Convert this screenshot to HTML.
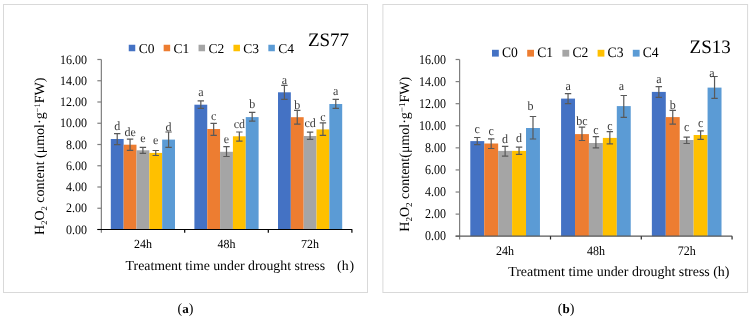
<!DOCTYPE html>
<html><head><meta charset="utf-8"><style>
html,body{margin:0;padding:0;background:#fff;}
body{width:752px;height:321px;overflow:hidden;position:relative;}
svg{position:absolute;left:0;top:0;will-change:transform;}
svg text{font-family:"Liberation Serif", serif;fill:#000;text-rendering:geometricPrecision;}
</style></head><body>
<svg width="752" height="321" viewBox="0 0 752 321">
<rect x="3.5" y="4.5" width="364.0" height="288.0" fill="#fff" stroke="#D9D9D9" stroke-width="1"/>
<rect x="110.80" y="139.00" width="12.84" height="90.50" fill="#4472C4"/>
<rect x="123.64" y="144.70" width="12.84" height="84.80" fill="#ED7D31"/>
<rect x="136.48" y="150.30" width="12.84" height="79.20" fill="#A5A5A5"/>
<rect x="149.32" y="152.90" width="12.84" height="76.60" fill="#FFC000"/>
<rect x="162.16" y="139.60" width="12.84" height="89.90" fill="#5B9BD5"/>
<rect x="194.40" y="104.70" width="12.84" height="124.80" fill="#4472C4"/>
<rect x="207.24" y="129.00" width="12.84" height="100.50" fill="#ED7D31"/>
<rect x="220.08" y="151.80" width="12.84" height="77.70" fill="#A5A5A5"/>
<rect x="232.92" y="136.30" width="12.84" height="93.20" fill="#FFC000"/>
<rect x="245.76" y="117.10" width="12.84" height="112.40" fill="#5B9BD5"/>
<rect x="278.00" y="92.30" width="12.84" height="137.20" fill="#4472C4"/>
<rect x="290.84" y="117.20" width="12.84" height="112.30" fill="#ED7D31"/>
<rect x="303.68" y="136.00" width="12.84" height="93.50" fill="#A5A5A5"/>
<rect x="316.52" y="129.40" width="12.84" height="100.10" fill="#FFC000"/>
<rect x="329.36" y="104.00" width="12.84" height="125.50" fill="#5B9BD5"/>
<path d="M117.22 133.60V144.70M114.02 133.60H120.42M114.02 144.70H120.42" stroke="#595959" stroke-width="1.2" fill="none"/>
<text transform="translate(117.22 129.90) scale(1 1.04)" text-anchor="middle" font-size="12" style="fill:#3a3a3a">d</text>
<path d="M130.06 139.20V150.30M126.86 139.20H133.26M126.86 150.30H133.26" stroke="#595959" stroke-width="1.2" fill="none"/>
<text transform="translate(130.06 135.90) scale(1 1.04)" text-anchor="middle" font-size="12" style="fill:#3a3a3a">de</text>
<path d="M142.90 147.40V153.40M139.70 147.40H146.10M139.70 153.40H146.10" stroke="#595959" stroke-width="1.2" fill="none"/>
<text transform="translate(142.90 141.80) scale(1 1.04)" text-anchor="middle" font-size="12" style="fill:#3a3a3a">e</text>
<path d="M155.74 150.50V155.50M152.54 150.50H158.94M152.54 155.50H158.94" stroke="#595959" stroke-width="1.2" fill="none"/>
<text transform="translate(155.74 143.80) scale(1 1.04)" text-anchor="middle" font-size="12" style="fill:#3a3a3a">e</text>
<path d="M168.58 132.00V147.40M165.38 132.00H171.78M165.38 147.40H171.78" stroke="#595959" stroke-width="1.2" fill="none"/>
<text transform="translate(168.58 130.80) scale(1 1.04)" text-anchor="middle" font-size="12" style="fill:#3a3a3a">d</text>
<path d="M200.82 100.80V108.30M197.62 100.80H204.02M197.62 108.30H204.02" stroke="#595959" stroke-width="1.2" fill="none"/>
<text transform="translate(200.82 96.30) scale(1 1.04)" text-anchor="middle" font-size="12" style="fill:#3a3a3a">a</text>
<path d="M213.66 123.30V135.40M210.46 123.30H216.86M210.46 135.40H216.86" stroke="#595959" stroke-width="1.2" fill="none"/>
<text transform="translate(213.66 120.20) scale(1 1.04)" text-anchor="middle" font-size="12" style="fill:#3a3a3a">c</text>
<path d="M226.50 146.60V156.50M223.30 146.60H229.70M223.30 156.50H229.70" stroke="#595959" stroke-width="1.2" fill="none"/>
<text transform="translate(226.50 142.90) scale(1 1.04)" text-anchor="middle" font-size="12" style="fill:#3a3a3a">e</text>
<path d="M239.34 132.00V141.20M236.14 132.00H242.54M236.14 141.20H242.54" stroke="#595959" stroke-width="1.2" fill="none"/>
<text transform="translate(239.34 128.20) scale(1 1.04)" text-anchor="middle" font-size="12" style="fill:#3a3a3a">cd</text>
<path d="M252.18 112.40V121.10M248.98 112.40H255.38M248.98 121.10H255.38" stroke="#595959" stroke-width="1.2" fill="none"/>
<text transform="translate(252.18 108.20) scale(1 1.04)" text-anchor="middle" font-size="12" style="fill:#3a3a3a">b</text>
<path d="M284.42 85.30V99.30M281.22 85.30H287.62M281.22 99.30H287.62" stroke="#595959" stroke-width="1.2" fill="none"/>
<text transform="translate(284.42 83.90) scale(1 1.04)" text-anchor="middle" font-size="12" style="fill:#3a3a3a">a</text>
<path d="M297.26 110.40V124.20M294.06 110.40H300.46M294.06 124.20H300.46" stroke="#595959" stroke-width="1.2" fill="none"/>
<text transform="translate(297.26 109.30) scale(1 1.04)" text-anchor="middle" font-size="12" style="fill:#3a3a3a">b</text>
<path d="M310.10 132.10V139.40M306.90 132.10H313.30M306.90 139.40H313.30" stroke="#595959" stroke-width="1.2" fill="none"/>
<text transform="translate(310.10 126.90) scale(1 1.04)" text-anchor="middle" font-size="12" style="fill:#3a3a3a">cd</text>
<path d="M322.94 122.80V135.30M319.74 122.80H326.14M319.74 135.30H326.14" stroke="#595959" stroke-width="1.2" fill="none"/>
<text transform="translate(322.94 120.90) scale(1 1.04)" text-anchor="middle" font-size="12" style="fill:#3a3a3a">c</text>
<path d="M335.78 99.30V108.40M332.58 99.30H338.98M332.58 108.40H338.98" stroke="#595959" stroke-width="1.2" fill="none"/>
<text transform="translate(335.78 94.70) scale(1 1.04)" text-anchor="middle" font-size="12" style="fill:#3a3a3a">a</text>
<path d="M101.35 59.5V232.8" stroke="#7f7f7f" stroke-width="1.2" fill="none"/>
<path d="M97.35 229.50H101.35" stroke="#7f7f7f" stroke-width="1.2" fill="none"/>
<text transform="translate(87.00 233.50) scale(1 1.08)" text-anchor="end" font-size="12">0.00</text>
<path d="M97.35 208.25H101.35" stroke="#7f7f7f" stroke-width="1.2" fill="none"/>
<text transform="translate(87.00 212.25) scale(1 1.08)" text-anchor="end" font-size="12">2.00</text>
<path d="M97.35 187.00H101.35" stroke="#7f7f7f" stroke-width="1.2" fill="none"/>
<text transform="translate(87.00 191.00) scale(1 1.08)" text-anchor="end" font-size="12">4.00</text>
<path d="M97.35 165.75H101.35" stroke="#7f7f7f" stroke-width="1.2" fill="none"/>
<text transform="translate(87.00 169.75) scale(1 1.08)" text-anchor="end" font-size="12">6.00</text>
<path d="M97.35 144.50H101.35" stroke="#7f7f7f" stroke-width="1.2" fill="none"/>
<text transform="translate(87.00 148.50) scale(1 1.08)" text-anchor="end" font-size="12">8.00</text>
<path d="M97.35 123.25H101.35" stroke="#7f7f7f" stroke-width="1.2" fill="none"/>
<text transform="translate(87.00 127.25) scale(1 1.08)" text-anchor="end" font-size="12">10.00</text>
<path d="M97.35 102.00H101.35" stroke="#7f7f7f" stroke-width="1.2" fill="none"/>
<text transform="translate(87.00 106.00) scale(1 1.08)" text-anchor="end" font-size="12">12.00</text>
<path d="M97.35 80.75H101.35" stroke="#7f7f7f" stroke-width="1.2" fill="none"/>
<text transform="translate(87.00 84.75) scale(1 1.08)" text-anchor="end" font-size="12">14.00</text>
<path d="M97.35 59.50H101.35" stroke="#7f7f7f" stroke-width="1.2" fill="none"/>
<text transform="translate(87.00 63.50) scale(1 1.08)" text-anchor="end" font-size="12">16.00</text>
<path d="M97.35 229.5H352.2" stroke="#000" stroke-width="1.2" fill="none"/>
<path d="M184.70 229.5V232.8" stroke="#000" stroke-width="1.2" fill="none"/>
<path d="M268.30 229.5V232.8" stroke="#000" stroke-width="1.2" fill="none"/>
<path d="M351.90 229.5V232.8" stroke="#000" stroke-width="1.2" fill="none"/>
<text transform="translate(142.90 248.00) scale(1 1.03)" text-anchor="middle" font-size="12">24h</text>
<text transform="translate(226.50 248.00) scale(1 1.03)" text-anchor="middle" font-size="12">48h</text>
<text transform="translate(310.10 248.00) scale(1 1.03)" text-anchor="middle" font-size="12">72h</text>
<rect x="128.75" y="44.75" width="6.5" height="6.5" fill="#4472C4"/>
<text x="138.65" y="52.60" font-size="13.5">C0</text>
<rect x="163.65" y="44.75" width="6.5" height="6.5" fill="#ED7D31"/>
<text x="173.55" y="52.60" font-size="13.5">C1</text>
<rect x="198.55" y="44.75" width="6.5" height="6.5" fill="#A5A5A5"/>
<text x="208.45" y="52.60" font-size="13.5">C2</text>
<rect x="233.45" y="44.75" width="6.5" height="6.5" fill="#FFC000"/>
<text x="243.35" y="52.60" font-size="13.5">C3</text>
<rect x="268.35" y="44.75" width="6.5" height="6.5" fill="#5B9BD5"/>
<text x="278.25" y="52.60" font-size="13.5">C4</text>
<text x="307.9" y="45.9" font-size="19">ZS77</text>
<text x="125.6" y="270.2" font-size="13.8">Treatment time under drought stress<tspan x="337.1">(</tspan><tspan>h</tspan><tspan x="349.6">)</tspan></text>
<text transform="translate(43.7 156.3) rotate(-90)" text-anchor="middle" font-size="14.0">H<tspan font-size="8.5" dy="3">2</tspan><tspan dy="-3">O</tspan><tspan font-size="8.5" dy="3">2</tspan><tspan dy="-3"> content (μmol·g</tspan><tspan font-size="8.5" dy="-4.2">−1</tspan><tspan dy="4.2">FW)</tspan></text>
<rect x="382.9" y="4.5" width="364.70000000000005" height="288.0" fill="#fff" stroke="#D9D9D9" stroke-width="1"/>
<rect x="470.30" y="141.10" width="13.93" height="95.10" fill="#4472C4"/>
<rect x="484.23" y="143.50" width="13.93" height="92.70" fill="#ED7D31"/>
<rect x="498.16" y="150.90" width="13.93" height="85.30" fill="#A5A5A5"/>
<rect x="512.09" y="150.90" width="13.93" height="85.30" fill="#FFC000"/>
<rect x="526.02" y="128.00" width="13.93" height="108.20" fill="#5B9BD5"/>
<rect x="561.08" y="98.60" width="13.93" height="137.60" fill="#4472C4"/>
<rect x="575.01" y="134.10" width="13.93" height="102.10" fill="#ED7D31"/>
<rect x="588.94" y="143.00" width="13.93" height="93.20" fill="#A5A5A5"/>
<rect x="602.87" y="137.90" width="13.93" height="98.30" fill="#FFC000"/>
<rect x="616.80" y="106.10" width="13.93" height="130.10" fill="#5B9BD5"/>
<rect x="651.86" y="91.90" width="13.93" height="144.30" fill="#4472C4"/>
<rect x="665.79" y="117.10" width="13.93" height="119.10" fill="#ED7D31"/>
<rect x="679.72" y="140.00" width="13.93" height="96.20" fill="#A5A5A5"/>
<rect x="693.65" y="135.00" width="13.93" height="101.20" fill="#FFC000"/>
<rect x="707.58" y="87.60" width="13.93" height="148.60" fill="#5B9BD5"/>
<path d="M477.26 137.50V144.70M474.06 137.50H480.46M474.06 144.70H480.46" stroke="#595959" stroke-width="1.2" fill="none"/>
<text transform="translate(477.26 132.70) scale(1 1.06)" text-anchor="middle" font-size="12" style="fill:#3a3a3a">c</text>
<path d="M491.19 138.80V148.50M488.00 138.80H494.39M488.00 148.50H494.39" stroke="#595959" stroke-width="1.2" fill="none"/>
<text transform="translate(491.19 135.00) scale(1 1.06)" text-anchor="middle" font-size="12" style="fill:#3a3a3a">c</text>
<path d="M505.12 146.30V156.20M501.93 146.30H508.32M501.93 156.20H508.32" stroke="#595959" stroke-width="1.2" fill="none"/>
<text transform="translate(505.12 142.70) scale(1 1.06)" text-anchor="middle" font-size="12" style="fill:#3a3a3a">d</text>
<path d="M519.06 147.10V154.40M515.86 147.10H522.26M515.86 154.40H522.26" stroke="#595959" stroke-width="1.2" fill="none"/>
<text transform="translate(519.06 141.80) scale(1 1.06)" text-anchor="middle" font-size="12" style="fill:#3a3a3a">d</text>
<path d="M532.99 116.50V139.00M529.78 116.50H536.19M529.78 139.00H536.19" stroke="#595959" stroke-width="1.2" fill="none"/>
<text transform="translate(530.50 110.20) scale(1 1.06)" text-anchor="middle" font-size="12" style="fill:#3a3a3a">b</text>
<path d="M568.05 93.60V103.60M564.85 93.60H571.25M564.85 103.60H571.25" stroke="#595959" stroke-width="1.2" fill="none"/>
<text transform="translate(568.05 90.10) scale(1 1.06)" text-anchor="middle" font-size="12" style="fill:#3a3a3a">a</text>
<path d="M581.98 127.20V140.50M578.77 127.20H585.18M578.77 140.50H585.18" stroke="#595959" stroke-width="1.2" fill="none"/>
<text transform="translate(581.98 124.70) scale(1 1.06)" text-anchor="middle" font-size="12" style="fill:#3a3a3a">bc</text>
<path d="M595.91 136.60V147.80M592.71 136.60H599.11M592.71 147.80H599.11" stroke="#595959" stroke-width="1.2" fill="none"/>
<text transform="translate(595.91 134.20) scale(1 1.06)" text-anchor="middle" font-size="12" style="fill:#3a3a3a">c</text>
<path d="M609.84 131.70V143.80M606.63 131.70H613.04M606.63 143.80H613.04" stroke="#595959" stroke-width="1.2" fill="none"/>
<text transform="translate(609.84 129.50) scale(1 1.06)" text-anchor="middle" font-size="12" style="fill:#3a3a3a">c</text>
<path d="M623.77 95.50V117.40M620.57 95.50H626.97M620.57 117.40H626.97" stroke="#595959" stroke-width="1.2" fill="none"/>
<text transform="translate(621.40 89.50) scale(1 1.06)" text-anchor="middle" font-size="12" style="fill:#3a3a3a">a</text>
<path d="M658.83 86.60V97.30M655.62 86.60H662.03M655.62 97.30H662.03" stroke="#595959" stroke-width="1.2" fill="none"/>
<text transform="translate(658.83 83.30) scale(1 1.06)" text-anchor="middle" font-size="12" style="fill:#3a3a3a">a</text>
<path d="M672.75 110.40V124.20M669.55 110.40H675.96M669.55 124.20H675.96" stroke="#595959" stroke-width="1.2" fill="none"/>
<text transform="translate(672.75 109.00) scale(1 1.06)" text-anchor="middle" font-size="12" style="fill:#3a3a3a">b</text>
<path d="M686.69 137.20V143.50M683.49 137.20H689.89M683.49 143.50H689.89" stroke="#595959" stroke-width="1.2" fill="none"/>
<text transform="translate(686.69 131.00) scale(1 1.06)" text-anchor="middle" font-size="12" style="fill:#3a3a3a">c</text>
<path d="M700.62 130.80V139.30M697.41 130.80H703.82M697.41 139.30H703.82" stroke="#595959" stroke-width="1.2" fill="none"/>
<text transform="translate(700.62 127.00) scale(1 1.06)" text-anchor="middle" font-size="12" style="fill:#3a3a3a">c</text>
<path d="M714.55 76.50V98.30M711.35 76.50H717.75M711.35 98.30H717.75" stroke="#595959" stroke-width="1.2" fill="none"/>
<text transform="translate(711.90 77.00) scale(1 1.06)" text-anchor="middle" font-size="12" style="fill:#3a3a3a">a</text>
<path d="M459.6 59.5V239.5" stroke="#7f7f7f" stroke-width="1.2" fill="none"/>
<path d="M455.6 236.20H459.6" stroke="#7f7f7f" stroke-width="1.2" fill="none"/>
<text transform="translate(446.00 240.40) scale(1 1.12)" text-anchor="end" font-size="12">0.00</text>
<path d="M455.6 214.11H459.6" stroke="#7f7f7f" stroke-width="1.2" fill="none"/>
<text transform="translate(446.00 218.31) scale(1 1.12)" text-anchor="end" font-size="12">2.00</text>
<path d="M455.6 192.02H459.6" stroke="#7f7f7f" stroke-width="1.2" fill="none"/>
<text transform="translate(446.00 196.22) scale(1 1.12)" text-anchor="end" font-size="12">4.00</text>
<path d="M455.6 169.94H459.6" stroke="#7f7f7f" stroke-width="1.2" fill="none"/>
<text transform="translate(446.00 174.14) scale(1 1.12)" text-anchor="end" font-size="12">6.00</text>
<path d="M455.6 147.85H459.6" stroke="#7f7f7f" stroke-width="1.2" fill="none"/>
<text transform="translate(446.00 152.05) scale(1 1.12)" text-anchor="end" font-size="12">8.00</text>
<path d="M455.6 125.76H459.6" stroke="#7f7f7f" stroke-width="1.2" fill="none"/>
<text transform="translate(446.00 129.96) scale(1 1.12)" text-anchor="end" font-size="12">10.00</text>
<path d="M455.6 103.68H459.6" stroke="#7f7f7f" stroke-width="1.2" fill="none"/>
<text transform="translate(446.00 107.88) scale(1 1.12)" text-anchor="end" font-size="12">12.00</text>
<path d="M455.6 81.59H459.6" stroke="#7f7f7f" stroke-width="1.2" fill="none"/>
<text transform="translate(446.00 85.79) scale(1 1.12)" text-anchor="end" font-size="12">14.00</text>
<path d="M455.6 59.50H459.6" stroke="#7f7f7f" stroke-width="1.2" fill="none"/>
<text transform="translate(446.00 63.70) scale(1 1.12)" text-anchor="end" font-size="12">16.00</text>
<path d="M455.6 236.2H732.2" stroke="#595959" stroke-width="1.2" fill="none"/>
<path d="M550.51 236.2V239.5" stroke="#262626" stroke-width="1.2" fill="none"/>
<path d="M641.29 236.2V239.5" stroke="#262626" stroke-width="1.2" fill="none"/>
<path d="M732.07 236.2V239.5" stroke="#262626" stroke-width="1.2" fill="none"/>
<text transform="translate(505.12 254.70) scale(1 1.07)" text-anchor="middle" font-size="12">24h</text>
<text transform="translate(595.90 254.70) scale(1 1.07)" text-anchor="middle" font-size="12">48h</text>
<text transform="translate(686.68 254.70) scale(1 1.07)" text-anchor="middle" font-size="12">72h</text>
<rect x="492.00" y="49.8" width="6.8" height="6.8" fill="#4472C4"/>
<text transform="translate(502.00 57.30) scale(1 1.06)" font-size="13.6">C0</text>
<rect x="527.20" y="49.8" width="6.8" height="6.8" fill="#ED7D31"/>
<text transform="translate(537.20 57.30) scale(1 1.06)" font-size="13.6">C1</text>
<rect x="562.40" y="49.8" width="6.8" height="6.8" fill="#A5A5A5"/>
<text transform="translate(572.40 57.30) scale(1 1.06)" font-size="13.6">C2</text>
<rect x="597.60" y="49.8" width="6.8" height="6.8" fill="#FFC000"/>
<text transform="translate(607.60 57.30) scale(1 1.06)" font-size="13.6">C3</text>
<rect x="632.80" y="49.8" width="6.8" height="6.8" fill="#5B9BD5"/>
<text transform="translate(642.80 57.30) scale(1 1.06)" font-size="13.6">C4</text>
<text x="689.6" y="52.9" font-size="19">ZS13</text>
<text x="508.2" y="276.2" font-size="13.95">Treatment time under drought stress (h)</text>
<text transform="translate(409.2 154.3) rotate(-90)" text-anchor="middle" font-size="14.0">H<tspan font-size="9.0" dy="3">2</tspan><tspan dy="-3">O</tspan><tspan font-size="9.0" dy="3">2</tspan><tspan dy="-3"> content(μmol·g</tspan><tspan font-size="9.0" dy="-4.2">−1</tspan><tspan dy="4.2">FW)</tspan></text>
<text x="185.4" y="313" text-anchor="middle" font-size="14">(<tspan font-weight="bold" font-size="13">a</tspan>)</text>
<text x="566.1" y="313" text-anchor="middle" font-size="14">(<tspan font-weight="bold" font-size="13">b</tspan>)</text>
</svg>
</body></html>
